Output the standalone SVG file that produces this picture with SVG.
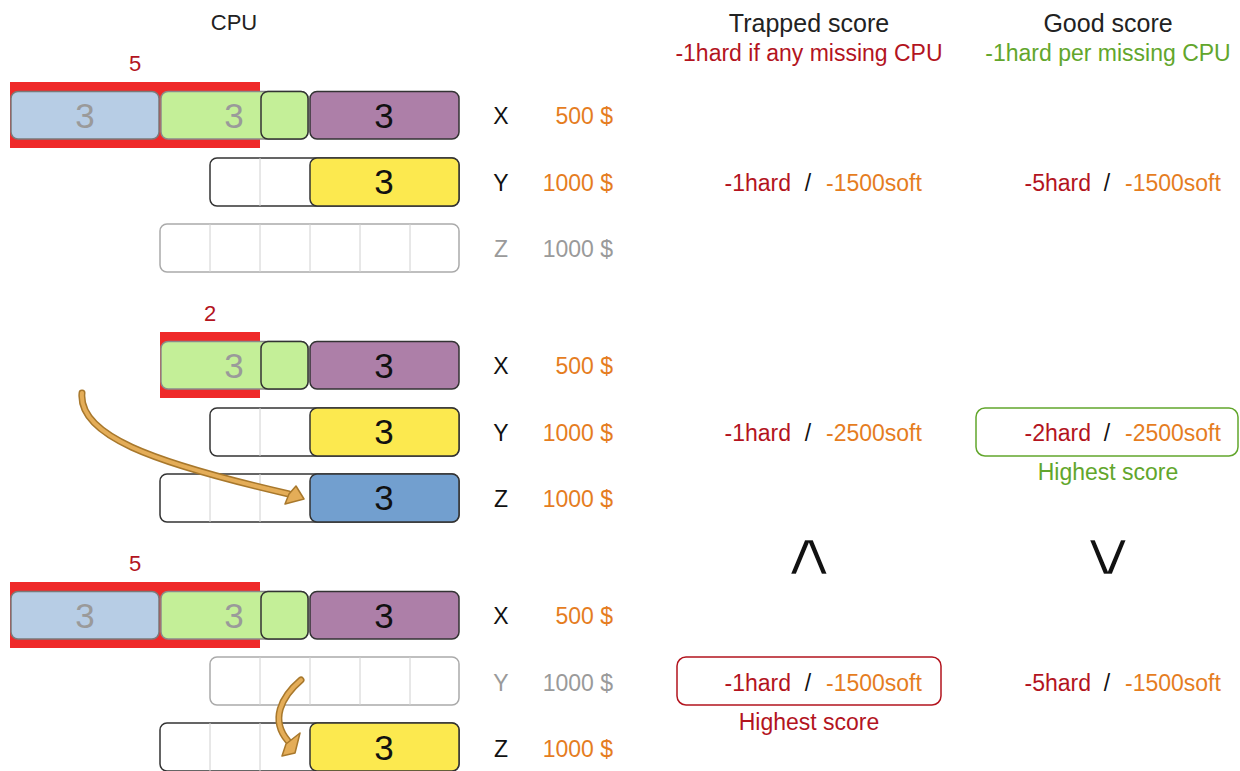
<svg xmlns="http://www.w3.org/2000/svg" width="1240" height="771" viewBox="0 0 1240 771">
<defs>
<style>
text{font-family:"Liberation Sans",Arial,sans-serif;}
.hdr{font-size:25px;fill:#222;text-anchor:middle}
.cpu{font-size:22px;fill:#222;text-anchor:middle}
.sub{font-size:23px;text-anchor:middle}
.red{fill:#b3141e}
.org{fill:#e57d1f}
.grn{fill:#62a62c}
.gry{fill:#9a9a9a}
.dk{fill:#111}
.lbl{font-size:23px;text-anchor:middle}
.price{font-size:23px;text-anchor:end}
.sc{font-size:23px}
.num{font-size:35px;text-anchor:middle}
.big{font-size:22px;text-anchor:middle}
.redbg{fill:#ef2929}
.cont{fill:#fff;stroke:#333;stroke-width:1.5}
.contg{fill:#fff;stroke:#aaa;stroke-width:1.5}
.div{stroke:#d0d0d0;stroke-width:1}
.pblue{fill:#b7cde5;stroke:#7a7a7a;stroke-width:1.5}
.pgreenf{fill:#c4ef98;stroke:#8a8a8a;stroke-width:1.5}
.pgreen{fill:#c4ef98;stroke:#333;stroke-width:1.5}
.purple{fill:#ad7fa8;stroke:#333;stroke-width:1.5}
.yellow{fill:#fce94f;stroke:#333;stroke-width:1.5}
.blue{fill:#729fcf;stroke:#333;stroke-width:1.5}
.arrO{fill:none;stroke:#a8782c;stroke-width:7;stroke-linecap:round}
.arrI{fill:none;stroke:#e4ad58;stroke-width:4;stroke-linecap:round}
.head{fill:#e4ad58;stroke:#a8782c;stroke-width:1.5;stroke-linejoin:round}
.chev{font-family:"DejaVu Sans",sans-serif;font-size:62px;fill:#111;stroke:#fff;stroke-width:2.4;text-anchor:middle}
</style>
</defs>

<g id="headers">
<text class="cpu" x="234" y="30">CPU</text>
<text class="hdr" x="809" y="32">Trapped score</text>
<text class="sub red" x="809" y="61">-1hard if any missing CPU</text>
<text class="hdr" x="1108" y="32">Good score</text>
<text class="sub grn" x="1108" y="61">-1hard per missing CPU</text>
</g>

<!-- Block 1 -->
<g id="block1">
<text class="big red" x="135" y="71">5</text>
<rect class="redbg" x="10" y="82" width="250" height="66"/>
<g id="b1x">
<rect class="pblue" x="11" y="91.5" width="148" height="47.5" rx="7"/>
<text class="num gry" x="85" y="128">3</text>
<rect class="pgreenf" x="161" y="91.5" width="147" height="47.5" rx="7"/>
<text class="num gry" x="234" y="128">3</text>
<rect class="pgreen" x="261" y="91.5" width="47" height="47.5" rx="7"/>
<rect class="purple" x="310" y="91.5" width="149" height="47.5" rx="7"/>
<text class="num dk" x="384" y="128">3</text>
</g>
<g id="b1y">
<rect class="cont" x="210" y="158" width="249" height="48" rx="7"/>
<line class="div" x1="260" y1="158" x2="260" y2="206"/>
<rect class="yellow" x="310" y="158" width="149" height="48" rx="7"/>
<text class="num dk" x="384" y="194">3</text>
</g>
<g id="b1z">
<rect class="contg" x="160" y="224" width="299" height="48" rx="7"/>
<line class="div" x1="210" y1="224" x2="210" y2="272"/>
<line class="div" x1="260" y1="224" x2="260" y2="272"/>
<line class="div" x1="310" y1="224" x2="310" y2="272"/>
<line class="div" x1="360" y1="224" x2="360" y2="272"/>
<line class="div" x1="410" y1="224" x2="410" y2="272"/>
</g>
<text class="lbl dk" x="501" y="124">X</text>
<text class="price org" x="613" y="124">500 $</text>
<text class="lbl dk" x="501" y="191">Y</text>
<text class="price org" x="613" y="191">1000 $</text>
<text class="lbl gry" x="501" y="257">Z</text>
<text class="price gry" x="613" y="257">1000 $</text>
</g>

<g id="score1">
<text class="sc red" x="791" y="191" text-anchor="end">-1hard</text>
<text class="sc dk" x="808" y="191" text-anchor="middle">/</text>
<text class="sc org" x="826" y="191">-1500soft</text>
<text class="sc red" x="1091" y="191" text-anchor="end">-5hard</text>
<text class="sc dk" x="1107" y="191" text-anchor="middle">/</text>
<text class="sc org" x="1125" y="191">-1500soft</text>
</g>

<!-- Block 2 -->
<g id="block2">
<text class="big red" x="210" y="321">2</text>
<rect class="redbg" x="160" y="332" width="100" height="66"/>
<g id="b2x">
<rect class="pgreenf" x="161" y="341.5" width="147" height="47.5" rx="7"/>
<text class="num gry" x="234" y="378">3</text>
<rect class="pgreen" x="261" y="341.5" width="47" height="47.5" rx="7"/>
<rect class="purple" x="310" y="341.5" width="149" height="47.5" rx="7"/>
<text class="num dk" x="384" y="378">3</text>
</g>
<g id="b2y">
<rect class="cont" x="210" y="408" width="249" height="48" rx="7"/>
<line class="div" x1="260" y1="408" x2="260" y2="456"/>
<rect class="yellow" x="310" y="408" width="149" height="48" rx="7"/>
<text class="num dk" x="384" y="444">3</text>
</g>
<g id="b2z">
<rect class="cont" x="160" y="474" width="299" height="48" rx="7"/>
<line class="div" x1="210" y1="474" x2="210" y2="522"/>
<line class="div" x1="260" y1="474" x2="260" y2="522"/>
<rect class="blue" x="310" y="474" width="149" height="48" rx="7"/>
<text class="num dk" x="384" y="510">3</text>
</g>
<text class="lbl dk" x="501" y="374">X</text>
<text class="price org" x="613" y="374">500 $</text>
<text class="lbl dk" x="501" y="441">Y</text>
<text class="price org" x="613" y="441">1000 $</text>
<text class="lbl dk" x="501" y="507">Z</text>
<text class="price org" x="613" y="507">1000 $</text>
</g>

<g id="score2">
<text class="sc red" x="791" y="441" text-anchor="end">-1hard</text>
<text class="sc dk" x="808" y="441" text-anchor="middle">/</text>
<text class="sc org" x="826" y="441">-2500soft</text>
<rect x="976" y="408" width="262" height="48" rx="9" fill="none" stroke="#62a62c" stroke-width="1.5"/>
<text class="sc red" x="1091" y="441" text-anchor="end">-2hard</text>
<text class="sc dk" x="1107" y="441" text-anchor="middle">/</text>
<text class="sc org" x="1125" y="441">-2500soft</text>
<text class="sub grn" x="1108" y="480">Highest score</text>
</g>

<g id="compare">
<text class="chev" transform="translate(809,575) scale(1.35,1)" x="0" y="0">∧</text>
<text class="chev" transform="translate(1108,575) scale(1.35,1)" x="0" y="0">∨</text>
</g>

<!-- Block 3 -->
<g id="block3">
<text class="big red" x="135" y="571">5</text>
<rect class="redbg" x="10" y="582" width="250" height="66"/>
<g id="b3x">
<rect class="pblue" x="11" y="591.5" width="148" height="47.5" rx="7"/>
<text class="num gry" x="85" y="628">3</text>
<rect class="pgreenf" x="161" y="591.5" width="147" height="47.5" rx="7"/>
<text class="num gry" x="234" y="628">3</text>
<rect class="pgreen" x="261" y="591.5" width="47" height="47.5" rx="7"/>
<rect class="purple" x="310" y="591.5" width="149" height="47.5" rx="7"/>
<text class="num dk" x="384" y="628">3</text>
</g>
<g id="b3y">
<rect class="contg" x="210" y="657" width="249" height="48" rx="7"/>
<line class="div" x1="260" y1="657" x2="260" y2="705"/>
<line class="div" x1="310" y1="657" x2="310" y2="705"/>
<line class="div" x1="360" y1="657" x2="360" y2="705"/>
<line class="div" x1="410" y1="657" x2="410" y2="705"/>
</g>
<g id="b3z">
<rect class="cont" x="160" y="723" width="299" height="48" rx="7"/>
<line class="div" x1="210" y1="723" x2="210" y2="771"/>
<line class="div" x1="260" y1="723" x2="260" y2="771"/>
<rect class="yellow" x="310" y="723" width="149" height="48" rx="7"/>
<text class="num dk" x="384" y="760">3</text>
</g>
<text class="lbl dk" x="501" y="624">X</text>
<text class="price org" x="613" y="624">500 $</text>
<text class="lbl gry" x="501" y="691">Y</text>
<text class="price gry" x="613" y="691">1000 $</text>
<text class="lbl dk" x="501" y="757">Z</text>
<text class="price org" x="613" y="757">1000 $</text>
</g>

<g id="score3">
<rect x="677" y="657" width="264" height="48" rx="9" fill="none" stroke="#b3141e" stroke-width="1.5"/>
<text class="sc red" x="791" y="691" text-anchor="end">-1hard</text>
<text class="sc dk" x="808" y="691" text-anchor="middle">/</text>
<text class="sc org" x="826" y="691">-1500soft</text>
<text class="sc red" x="1091" y="691" text-anchor="end">-5hard</text>
<text class="sc dk" x="1107" y="691" text-anchor="middle">/</text>
<text class="sc org" x="1125" y="691">-1500soft</text>
<text class="sub red" x="809" y="730">Highest score</text>
</g>

<g id="connectors">
<path class="arrO" d="M 82 393 C 78 435 150 462 289 494"/>
<path class="arrI" d="M 82 393 C 78 435 150 462 289 494"/>
<path class="head" d="M 296 486 L 304 499 L 285 504 L 289 494 Z"/>
<path class="arrO" d="M 301 680 C 281 697 270 720 288 741"/>
<path class="arrI" d="M 301 680 C 281 697 270 720 288 741"/>
<path class="head" d="M 300 733 L 295 753 L 282 756 L 286 744 Z"/>
</g>
</svg>
